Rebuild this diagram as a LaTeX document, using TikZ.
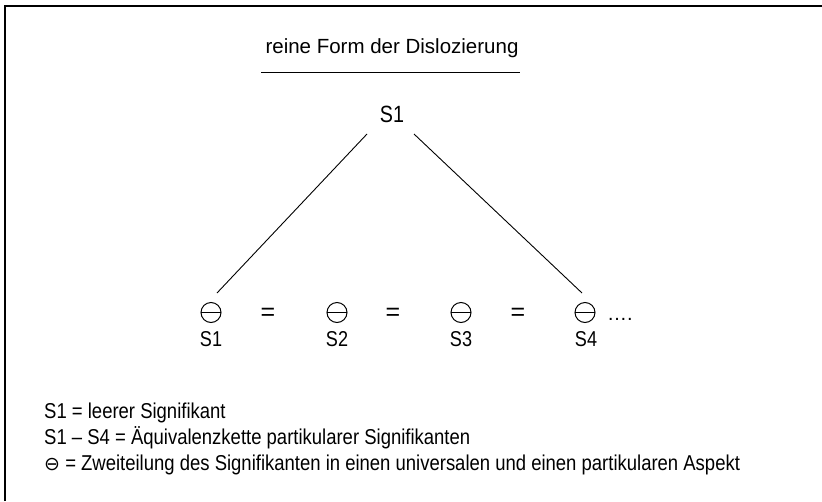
\documentclass[tikz,border=0pt]{standalone}
\usepackage{fontspec}
\setmainfont{Liberation Sans}
\newfontfamily\nfont[FakeStretch=0.86]{Liberation Sans}
\newfontfamily\sfont[FakeStretch=0.84]{Liberation Sans}
\newfontfamily\symfont{DejaVu Sans}
\begin{document}
\begin{tikzpicture}[x=1pt,y=-1pt,
  titlefont/.style={font=\fontsize{20.5}{24}\selectfont},
  topS/.style={font=\sfont\fontsize{23.5}{26}\selectfont, anchor=base},
  botS/.style={font=\sfont\fontsize{21.5}{24}\selectfont, anchor=base},
  split/.style={circle, draw, line width=1pt, minimum size=20pt, inner sep=0pt,
    path picture={\draw[line width=1pt] (path picture bounding box.west) -- (path picture bounding box.east);}},
  eqsign/.style={font=\fontsize{25}{28}\selectfont, inner sep=0pt, anchor=center},
  legend/.style={font=\nfont\fontsize{21.5}{24}\selectfont, anchor=base west, inner sep=0pt},
  conn/.style={line width=0.9pt}]
\useasboundingbox (0,0) rectangle (822,501);
% frame (top and left edges)
\coordinate (fb) at (5,501);
\coordinate (fc) at (5,6);
\coordinate (fr) at (822,6);
\draw[line width=2pt] (fb) -- (fc) -- (fr);
% title
\node[titlefont, anchor=base] (title) at (392,53) {reine Form der Dislozierung};
\coordinate (ula) at (261,72);
\coordinate (ulb) at (520,72);
\draw[line width=0.7pt] (ula) -- (ulb);
% top S1
\node[topS] (top) at (392,122) {S1};
% chain
\node[split] (o1) at (211,312.5) {};
\node[split] (o2) at (337,312.5) {};
\node[split] (o3) at (461,312.5) {};
\node[split] (o4) at (585,312.5) {};
\node[eqsign] (e1) at (268,314) {=};
\node[eqsign] (e2) at (393,314) {=};
\node[eqsign] (e3) at (518,314) {=};
\node[font=\fontsize{20}{24}\selectfont, anchor=base west, inner sep=0pt] (dots) at (607,320) {….};
\node[botS] (s1) at (211,346) {S1};
\node[botS] (s2) at (337,346) {S2};
\node[botS] (s3) at (461,346) {S3};
\node[botS] (s4) at (586,346) {S4};
% connectors
\coordinate (la) at (367,134);
\coordinate (lb) at (217,293);
\coordinate (ra) at (414,134);
\coordinate (rb) at (582,293);
\draw[conn] (la) -- (lb);
\draw[conn] (ra) -- (rb);
% legend
\node[legend] (leg1) at (44,418) {S1 = leerer Signifikant};
\node[legend] (leg2) at (44,444) {S1 – S4 = Äquivalenzkette partikularer Signifikanten};
\node[legend] (leg3) at (44,470) {{\symfont\fontsize{19}{22}\selectfont ⊖} = Zweiteilung des Signifikanten in einen universalen und einen partikularen Aspekt};
\end{tikzpicture}
\end{document}
